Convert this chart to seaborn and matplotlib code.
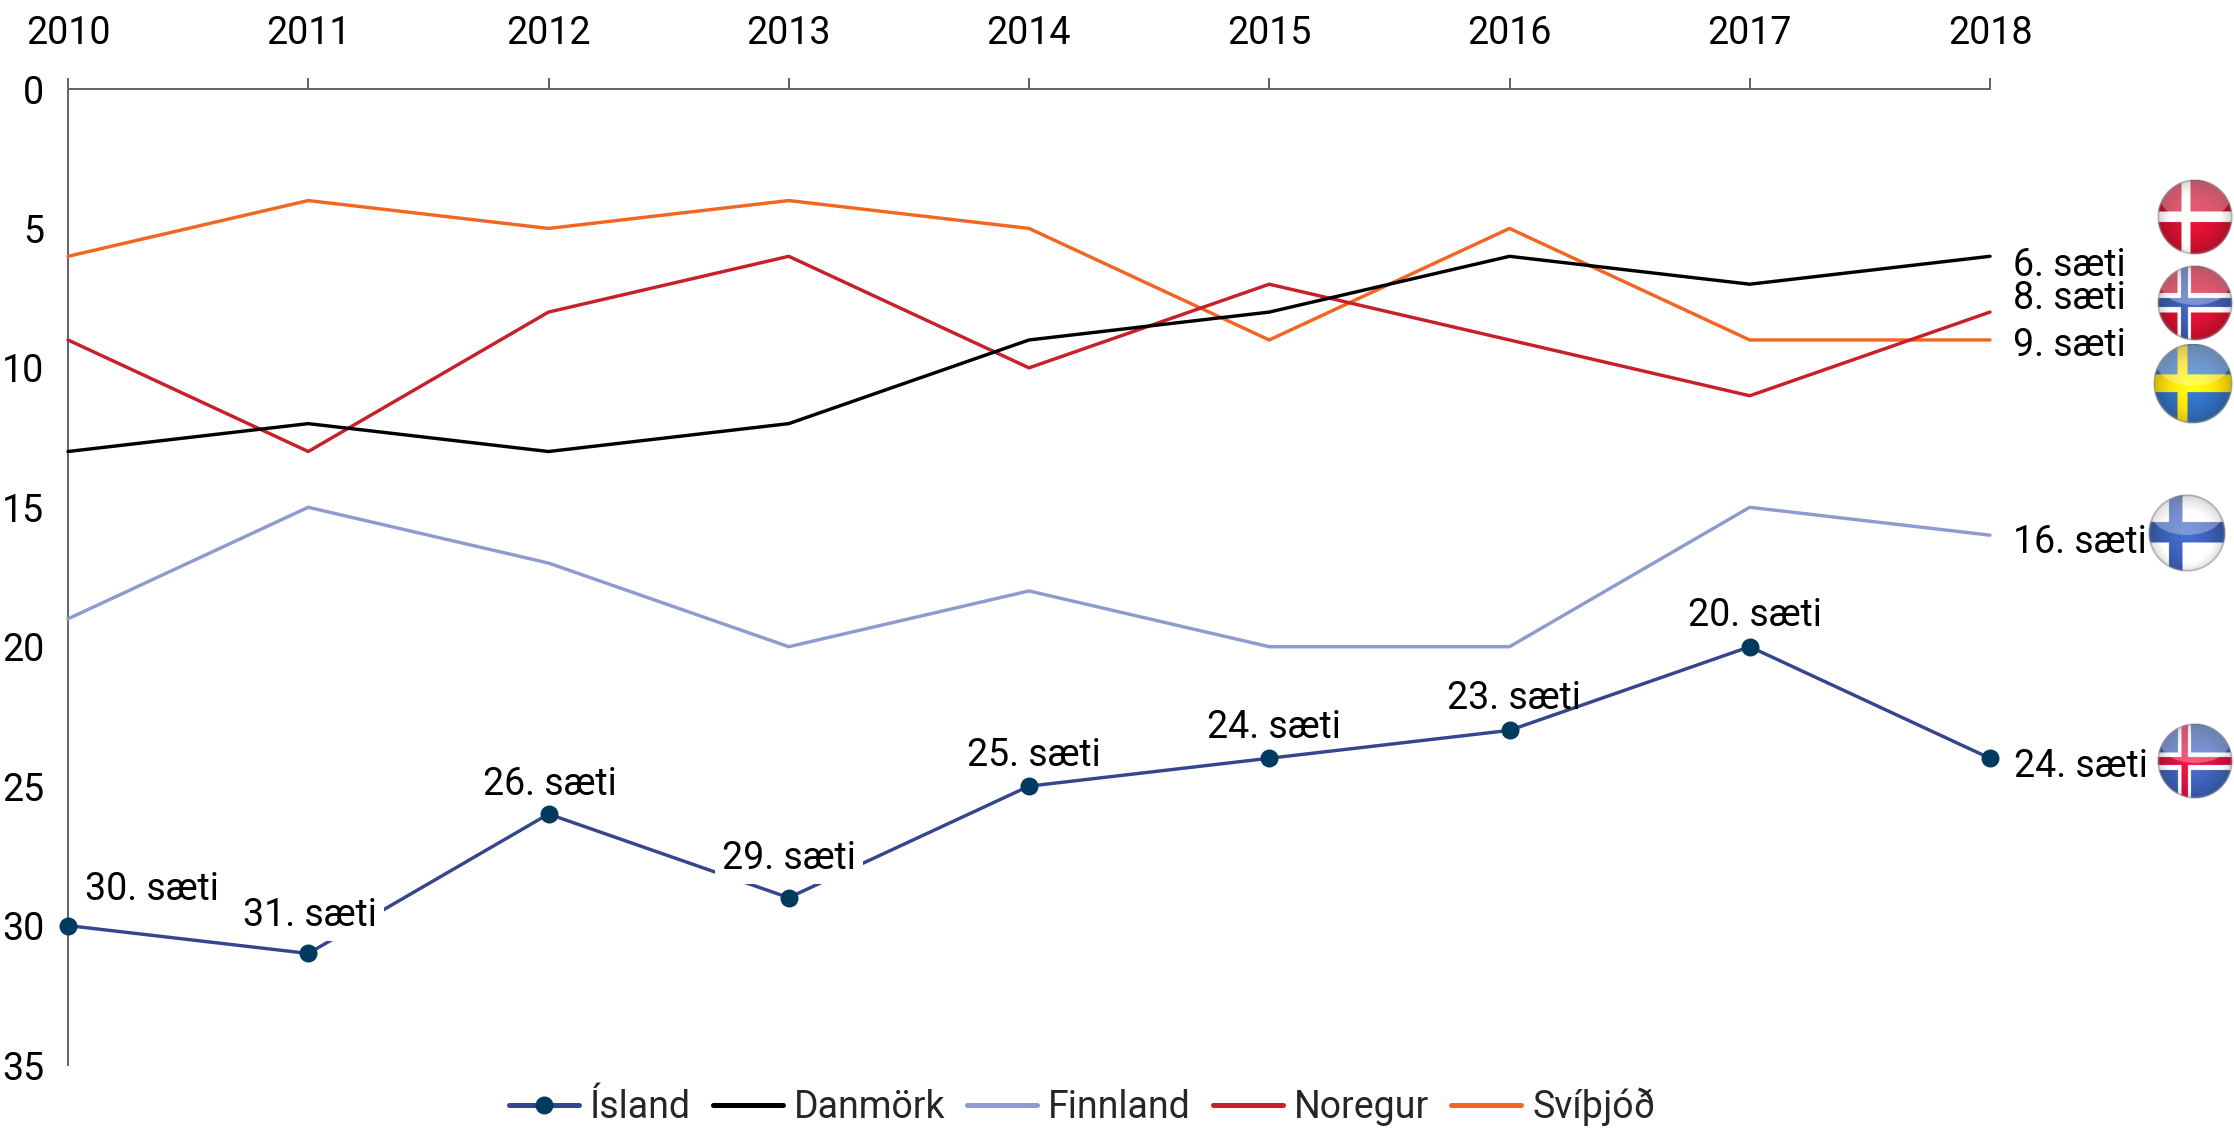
import matplotlib
matplotlib.use("Agg")
import matplotlib.pyplot as plt
import numpy as np
import pandas as pd
import seaborn as sns

years = [2010, 2011, 2012, 2013, 2014, 2015, 2016, 2017, 2018]
countries = ["Ísland", "Danmörk", "Finnland", "Noregur", "Svíþjóð"]
island = [30, 31, 26, 29, 25, 24, 23, 20, 24]
danmork = [13, 12, 13, 12, 9, 8, 6, 7, 6]
finnland = [19, 15, 17, 20, 18, 20, 20, 15, 16]
noregur = [9, 13, 8, 6, 10, 7, 9, 11, 8]
svithjod = [6, 4, 5, 4, 5, 9, 5, 9, 9]
yticks = [0, 5, 10, 15, 20, 25, 30, 35]

W, H = 2234, 1129
PX = 0.72  # points per pixel at dpi 100
FS = 27
AXIS = "#666666"
TEXT_SHIFT = 3  # va="center" sits a little high for this font
colors = dict(zip(countries, ["#35468f", "#000000", "#8e9bd0", "#c8202a", "#f26522"]))


def add_flag(fig, cx, cy, r, bg, crosses):
    # glossy round flag, centre and radius in figure pixels
    ax = fig.add_axes([(cx - r) / W, 1 - (cy + r) / H, 2 * r / W, 2 * r / H])
    ax.axis("off")
    n = 4 * r
    yy, xx = np.mgrid[-1:1:n * 1j, -1:1:n * 1j]
    img = np.ones((n, n, 4))
    img[..., :3] = matplotlib.colors.to_rgb(bg)
    for col, x0, x1, y0, y1 in crosses:
        m = ((xx > x0) & (xx < x1)) | ((yy > y0) & (yy < y1))
        img[m, :3] = matplotlib.colors.to_rgb(col)
    rr = np.sqrt(xx**2 + yy**2)
    # darker rim, lighter middle, white gloss on the upper half
    shade = np.clip(1.18 - 0.35 * ((xx**2 + (yy - 0.1) ** 2) ** 0.8), 0, 1.25)[..., None]
    img[..., :3] = np.clip(img[..., :3] * shade, 0, 1)
    gloss = (xx**2 / 0.9**2 + (yy + 0.45) ** 2 / 0.5**2) < 1
    img[gloss, :3] = img[gloss, :3] * 0.7 + 0.3
    rim = np.clip((rr - 0.93) / 0.07, 0, 1)[..., None]
    img[..., :3] = img[..., :3] * (1 - rim) + 0.55 * rim
    img[..., 3] = np.clip((1 - rr) * n / 3, 0, 1)
    ax.imshow(img, interpolation="antialiased")


def main():
    sns.set_theme(style="white")
    plt.rcParams["font.family"] = ["Roboto", "DejaVu Sans"]
    plt.rcParams["font.size"] = FS

    df = pd.DataFrame({
        "year": years * 5,
        "rank": island + danmork + finnland + noregur + svithjod,
        "country": [c for c in countries for _ in years],
    })

    fig = plt.figure(figsize=(W / 100, H / 100), dpi=100)
    ax = fig.add_axes([68 / W, 1 - 1065 / H, (1990 - 68) / W, (1065 - 89) / H])

    for c in countries[::-1]:
        is_main = c == "Ísland"
        sns.lineplot(
            data=df[df["country"] == c], x="year", y="rank", ax=ax, label=c,
            color=colors[c], linewidth=3.4 * PX, clip_on=False, zorder=4 if is_main else 3,
            marker="o" if is_main else None, markersize=18 * PX,
            markerfacecolor="#003a5d", markeredgecolor="#003a5d", markeredgewidth=0,
        )

    ax.set_xlim(2010, 2018)
    ax.set_ylim(35, 0)
    ax.set_xticks(years)
    ax.set_yticks(yticks)
    ax.set_xlabel("")
    ax.set_ylabel("")
    # despine hides the top ticks again, so tick settings have to come after it
    sns.despine(ax=ax, top=False, left=False, right=True, bottom=True)
    ax.xaxis.tick_top()
    ax.tick_params(axis="x", top=True, labeltop=True, direction="out", length=8, width=2 * PX, color=AXIS,
                   pad=18.5, labelsize=FS, labelcolor="black")
    for t in ax.xaxis.get_major_ticks():
        t.tick2line.set_visible(True)
    ax.tick_params(axis="y", left=False, pad=11, labelsize=FS, labelcolor="black")
    for s in ["top", "left"]:
        ax.spines[s].set_color(AXIS)
        ax.spines[s].set_linewidth(2 * PX)

    # rank labels, offset in screen pixels (right, down) from their point
    island_offsets = [(84, -39), (2, -41), (1, -33), (0, -42), (5, -34), (5, -34), (4, -35), (5, -34), (91, 5)]
    for i, (yr, v) in enumerate(zip(years, island)):
        boxed = yr in (2011, 2013)
        dx, dy = island_offsets[i]
        ax.annotate(
            f"{v}. sæti", (yr, v), xytext=(dx, -dy - TEXT_SHIFT), textcoords="offset pixels",
            ha="center", va="center", fontsize=FS, color="black", zorder=5,
            annotation_clip=False,
            bbox=dict(facecolor="white", edgecolor="none", pad=5) if boxed else None,
        )
    right_offsets = [(danmork, 6), (noregur, -17), (finnland, 4), (svithjod, 3)]
    for series, dy in right_offsets:
        ax.annotate(
            f"{series[-1]}. sæti", (years[-1], series[-1]), xytext=(23, -dy - TEXT_SHIFT), textcoords="offset pixels",
            ha="left", va="center", fontsize=FS, color="black", annotation_clip=False,
        )

    handles, labels = ax.get_legend_handles_labels()
    order = [labels.index(c) for c in countries]
    ax.get_legend().remove()
    leg = fig.legend(
        [handles[i] for i in order], [labels[i] for i in order],
        loc="center", bbox_to_anchor=(1082 / W, 1 - 1107 / H), ncol=5, frameon=False,
        fontsize=FS, handlelength=70 * PX / FS, handletextpad=11 * PX / FS,
        columnspacing=22 * PX / FS, borderpad=0,
    )
    for line in leg.get_lines():
        line.set_linewidth(5 * PX)

    add_flag(fig, 2195, 217, 38, "#c8102e", [("white", -0.36, -0.12, -0.15, 0.13)])
    add_flag(fig, 2195, 303, 38, "#c8102e", [("white", -0.46, -0.10, -0.26, 0.25),
                                             ("#3a57a8", -0.375, -0.19, -0.13, 0.11)])
    add_flag(fig, 2193, 384, 40, "#2f69b3", [("#f5d90a", -0.39, -0.14, -0.23, 0.21)])
    add_flag(fig, 2187, 533, 39, "white", [("#3a5cb0", -0.47, -0.12, -0.28, 0.24)])
    add_flag(fig, 2195, 761, 38, "#3a5cb0", [("white", -0.45, -0.10, -0.22, 0.24),
                                             ("#d01040", -0.36, -0.18, -0.11, 0.11)])

    fig.savefig("out.png", dpi=100)
    plt.close(fig)


if __name__ == "__main__":
    main()
